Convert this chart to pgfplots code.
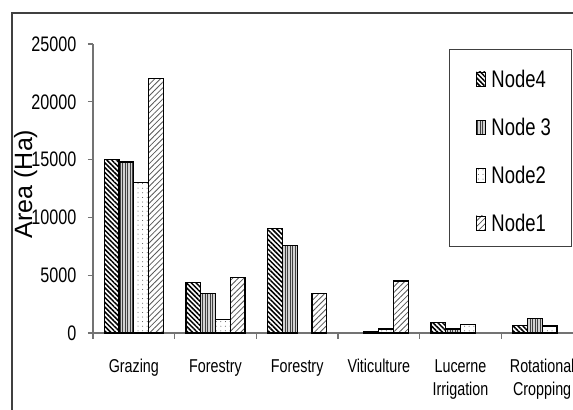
\documentclass[border=0pt]{standalone}
\usepackage{fontspec}
\setmainfont{Liberation Sans}
\newfontfamily\narrowfont[FakeStretch=0.77]{Liberation Sans}
\usepackage{pgfplots}
\pgfplotsset{compat=1.18}
\usetikzlibrary{patterns.meta}

% bar values, categories at 0.5, 1.5, ..., 5.5 (zero bars left out)
\pgfplotstableread{
x y
0.5 15000
1.5 4400
2.5 9050
4.5 900
5.5 650
}\nodefour
\pgfplotstableread{
x y
0.5 14800
1.5 3400
2.5 7600
3.5 150
4.5 350
5.5 1250
}\nodethree
\pgfplotstableread{
x y
0.5 13000
1.5 1200
3.5 350
4.5 750
5.5 600
}\nodetwo
\pgfplotstableread{
x y
0.5 22000
1.5 4800
2.5 3400
3.5 4500
}\nodeone

\newcommand{\twoline}[2]{\begin{tabular}[t]{@{}c@{}}#1\\#2\end{tabular}}

\begin{document}
\begin{tikzpicture}
\useasboundingbox (0,0) rectangle (286.5pt,204.5pt);
\clip (0,0) rectangle (286.5pt,204.5pt);
\fill[white] (0,0) rectangle (286.5pt,204.5pt);
\draw[black!75, line width=0.6pt] (6pt,-10pt) -- (6pt,198pt) -- (300pt,198pt);
\begin{axis}[
  at={(46.5pt,38pt)}, anchor=south west,
  scale only axis, width=245pt, height=144.5pt,
  xmin=0, xmax=6, ymin=0, ymax=25000,
  axis x line*=bottom, axis y line*=left,
  axis line style={black!55, line width=0.6pt},
  tick align=outside,
  ytick={0,5000,...,25000},
  scaled y ticks=false,
  major tick length=2.6pt, minor tick length=2.85pt,
  tick style={black!55, line width=0.6pt},
  major x tick style={draw=none},
  xtick={0.5,1.5,...,5.5},
  minor xtick={0,1,...,6},
  xticklabels={Grazing, Forestry, Forestry, Viticulture, \twoline{Lucerne}{Irrigation}, \twoline{Rotational}{Cropping}},
  xticklabel style={font=\narrowfont\fontsize{9.3}{11.6}\selectfont, anchor=base, inner sep=0pt, yshift=-17pt},
  /pgf/number format/assume math mode=true,
  /pgf/number format/1000 sep={},
  yticklabel style={font=\narrowfont\fontsize{10.5}{12}\selectfont, inner sep=0pt, xshift=-5.5pt},
  ylabel={Area (Ha)},
  ylabel style={font=\fontsize{12.5}{15}\selectfont, at={(axis description cs:-0.1243,0.516)}, anchor=base},
  ybar=0pt, bar width=7.375pt,
  every axis plot/.append style={draw=black, line width=0.6pt},
  legend style={at={(rel axis cs:0.727,0.9817)}, anchor=north west,
    draw=none, fill=none,
    font=\narrowfont\fontsize{12}{14}\selectfont,
    nodes={inner sep=0pt, text height=8.7pt, text depth=0pt},
    row sep=15.3pt, column sep=3pt, inner xsep=13pt, inner ysep=10.3pt},
  legend cell align=left,
  legend image code/.code={\draw[#1, line width=0.4pt] (0pt,-3.5pt) rectangle (4.5pt,3.5pt);},
]
\addplot[fill=white, postaction={pattern={Lines[angle=-45,distance=1.7pt,line width=0.75pt]}, pattern color=black}] table {\nodefour};
\addplot[fill=gray!35, postaction={pattern={Lines[angle=90,distance=1.25pt,line width=0.35pt]}, pattern color=black!75}] table {\nodethree};
\addplot[fill=white, postaction={pattern={Dots[distance=2.3pt,radius=0.25pt]}, pattern color=black!70}] table {\nodetwo};
\addplot[fill=white, postaction={pattern={Lines[angle=45,distance=2pt,line width=0.4pt]}, pattern color=black!65}] table {\nodeone};
\legend{Node4, Node 3, Node2, Node1}
% legend frame
\draw[black!75, line width=0.6pt] (rel axis cs:0.727,0.9817) rectangle (rel axis cs:0.977,0.2986);
\end{axis}
\end{tikzpicture}
\end{document}
